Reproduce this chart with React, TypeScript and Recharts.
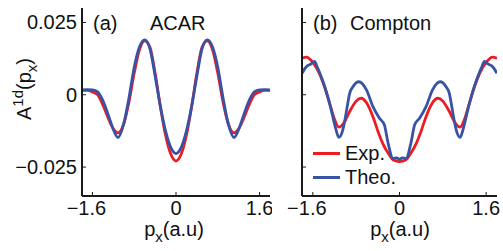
import React from "react";
import { Legend, Line, LineChart, XAxis, YAxis } from "recharts";

// panel (a) ACAR
const acarP = [-1.8, -1.7, -1.6, -1.5, -1.4, -1.3, -1.2, -1.11, -1.0, -0.9, -0.8, -0.7, -0.6, -0.5, -0.4, -0.3, -0.2, -0.1, 0, 0.1, 0.2, 0.3, 0.4, 0.5, 0.6, 0.7, 0.8, 0.9, 1.0, 1.11, 1.2, 1.3, 1.4, 1.5, 1.6, 1.7, 1.8];
const acarExp = [0.0015, 0.0015, 0.001, 0.0, -0.0035, -0.008, -0.0118, -0.0132, -0.01, -0.0025, 0.0075, 0.0155, 0.0186, 0.0165, 0.0075, -0.004, -0.014, -0.0205, -0.0229, -0.0205, -0.014, -0.004, 0.0075, 0.0165, 0.0186, 0.0155, 0.0075, -0.0025, -0.01, -0.0132, -0.0118, -0.008, -0.0035, 0.0, 0.001, 0.0015, 0.0015];
const acarTheo = [0.0017, 0.0018, 0.0017, 0.001, -0.002, -0.0068, -0.012, -0.0148, -0.01, -0.001, 0.0095, 0.0165, 0.019, 0.016, 0.0065, -0.004, -0.0125, -0.0182, -0.0203, -0.0182, -0.0125, -0.004, 0.0065, 0.016, 0.019, 0.0165, 0.0095, -0.001, -0.01, -0.0148, -0.012, -0.0068, -0.002, 0.001, 0.0017, 0.0018, 0.0017];

// panel (b) Compton
const comptonExpP = [-1.8, -1.72, -1.6, -1.48, -1.38, -1.29, -1.2, -1.12, -1.02, -0.92, -0.8, -0.71, -0.6, -0.49, -0.4, -0.31, -0.2, -0.12, 0, 0.12, 0.2, 0.31, 0.4, 0.49, 0.6, 0.71, 0.8, 0.92, 1.02, 1.12, 1.2, 1.29, 1.38, 1.48, 1.6, 1.72, 1.8];
const comptonExp = [0.0126, 0.013, 0.0112, 0.0074, 0.0025, -0.0029, -0.0085, -0.0112, -0.0095, -0.0058, -0.0022, -0.0012, -0.003, -0.0076, -0.0125, -0.0168, -0.0205, -0.0225, -0.0231, -0.0225, -0.0205, -0.0168, -0.0125, -0.0076, -0.003, -0.0012, -0.0022, -0.0058, -0.0095, -0.0112, -0.0085, -0.0029, 0.0025, 0.0074, 0.0112, 0.013, 0.0126];
const comptonTheoP = [-1.8, -1.72, -1.63, -1.57, -1.51, -1.45, -1.38, -1.26, -1.18, -1.12, -1.06, -1.02, -0.96, -0.92, -0.86, -0.75, -0.61, -0.49, -0.37, -0.28, -0.21, -0.12, -0.05, 0, 0.05, 0.12, 0.21, 0.28, 0.37, 0.49, 0.61, 0.75, 0.86, 0.92, 0.96, 1.02, 1.06, 1.12, 1.18, 1.26, 1.38, 1.45, 1.51, 1.57, 1.63, 1.72, 1.8];
const comptonTheo = [0.0074, 0.0097, 0.0107, 0.0115, 0.0092, 0.0065, 0.0028, -0.0053, -0.0115, -0.0147, -0.013, -0.0099, -0.0035, 0.0005, 0.0028, 0.0045, 0.0017, -0.0041, -0.0081, -0.0104, -0.0168, -0.022, -0.0218, -0.0223, -0.0218, -0.022, -0.0168, -0.0104, -0.0081, -0.0041, 0.0017, 0.0045, 0.0028, 0.0005, -0.0035, -0.0099, -0.013, -0.0147, -0.0115, -0.0053, 0.0028, 0.0065, 0.0092, 0.0115, 0.0107, 0.0097, 0.0074];

const xTicks = [-1.6, 0, 1.6];
const yTicks = [-0.025, 0, 0.025];
const xDomain = [-1.8, 1.8];
const yDomain = [-0.035, 0.03];

const RED = "#ed1c24";
const BLUE = "#3953a4";
const FRAME = "#1a1a1a";
const FONT = '"Liberation Sans", Arial, Helvetica, sans-serif';

const rows = (xs: number[], ys: number[]) => xs.map((p, i) => ({ p, v: ys[i] }));
const fmt = (v: number) => (v < 0 ? "\u2212" + Math.abs(v) : String(v));

function BottomTick(props: any) {
  const { x, y, payload } = props;
  const v = payload.value;
  return (
    <g>
      <line x1={x} y1={y} x2={x} y2={y - 4} stroke={FRAME} strokeWidth={1} />
      <text x={x + (v < 0 ? -6 : 0)} y={y + 19} textAnchor="middle" fontSize={20} fontFamily={FONT} fill="#111">
        {fmt(v)}
      </text>
    </g>
  );
}

function TopTick(props: any) {
  const { x, y } = props;
  return <line x1={x} y1={y} x2={x} y2={y + 4} stroke={FRAME} strokeWidth={1} />;
}

function LeftTick(props: any) {
  const { x, y, payload, showLabel } = props;
  return (
    <g>
      <line x1={x} y1={y} x2={x + 4} y2={y} stroke={FRAME} strokeWidth={1} />
      {showLabel && (
        <text x={x - 5} y={y + 7} textAnchor="end" fontSize={20} fontFamily={FONT} fill="#111">
          {fmt(payload.value)}
        </text>
      )}
    </g>
  );
}

function RightTick(props: any) {
  const { x, y } = props;
  return <line x1={x} y1={y} x2={x - 4} y2={y} stroke={FRAME} strokeWidth={1} />;
}

function XLabel({ cx }: { cx: number }) {
  return (
    <text x={cx} y={236} textAnchor="middle" fontSize={20} fontFamily={FONT} fill="#111">
      <tspan>p</tspan>
      <tspan dy={6} fontSize={15}>x</tspan>
      <tspan dy={-6}>(a.u)</tspan>
    </text>
  );
}

function LegendBox(props: any) {
  const items = props.payload || [];
  return (
    <div style={{ fontFamily: FONT, fontSize: 20, color: "#111", lineHeight: "24px" }}>
      {items.map((it: any) => (
        <div key={it.value} style={{ display: "flex", alignItems: "center", height: 24 }}>
          <span style={{ display: "inline-block", width: 27, height: 3, background: it.color, marginRight: 5 }} />
          <span>{it.value}</span>
        </div>
      ))}
    </div>
  );
}

function axes(leftLabels: boolean) {
  const line = { stroke: FRAME, strokeWidth: 2 };
  return [
    <XAxis key="xb" xAxisId="b" dataKey="p" type="number" domain={xDomain} ticks={xTicks} interval={0} allowDataOverflow height={55} axisLine={line} tickLine={false} tickSize={0} tickMargin={0} tick={(p: any) => <BottomTick {...p} />} />,
    <XAxis key="xt" xAxisId="t" orientation="top" dataKey="p" type="number" domain={xDomain} ticks={xTicks} interval={0} allowDataOverflow height={0} axisLine={line} tickLine={false} tickSize={0} tickMargin={0} tick={(p: any) => <TopTick {...p} />} />,
    <YAxis key="yl" yAxisId="l" type="number" domain={yDomain} ticks={yTicks} interval={0} allowDataOverflow width={leftLabels ? 82 : 30} axisLine={line} tickLine={false} tickSize={0} tickMargin={0} tick={(p: any) => <LeftTick {...p} showLabel={leftLabels} />} />,
    <YAxis key="yr" yAxisId="r" orientation="right" type="number" domain={yDomain} ticks={yTicks} interval={0} allowDataOverflow width={0} axisLine={line} tickLine={false} tickSize={0} tickMargin={0} tick={(p: any) => <RightTick {...p} />} />,
  ];
}

export default function App() {
  return (
    <div style={{ position: "absolute", left: 0, top: 0, width: 503, height: 251, background: "#fff" }}>
      <div style={{ position: "absolute", left: 0, top: 0 }}>
        <LineChart width={272} height={251} margin={{ top: 8, right: 2, bottom: 0, left: 0 }}>
          {axes(true)}
          <Line xAxisId="b" yAxisId="l" data={rows(acarP, acarExp)} dataKey="v" name="Exp." type="monotone" stroke={RED} strokeWidth={2.8} dot={false} isAnimationActive={false} />
          <Line xAxisId="b" yAxisId="l" data={rows(acarP, acarTheo)} dataKey="v" name="Theo." type="monotone" stroke={BLUE} strokeWidth={2.8} dot={false} isAnimationActive={false} />
          <text x={93} y={30} fontSize={20} fontFamily={FONT} fill="#111">(a)</text>
          <text x={150} y={30} fontSize={20} fontFamily={FONT} fill="#111">ACAR</text>
          <text transform="rotate(-90 31 89)" x={31} y={89} textAnchor="middle" fontSize={20} fontFamily={FONT} fill="#111">
            <tspan>A</tspan>
            <tspan dy={-8} fontSize={15}>1d</tspan>
            <tspan dy={8}>(p</tspan>
            <tspan dy={6} fontSize={15}>x</tspan>
            <tspan dy={-6}>)</tspan>
          </text>
          <XLabel cx={174} />
        </LineChart>
      </div>
      <div style={{ position: "absolute", left: 272, top: 0 }}>
        <LineChart width={231} height={251} margin={{ top: 8, right: 6, bottom: 0, left: 0 }}>
          {axes(false)}
          <Line xAxisId="b" yAxisId="l" data={rows(comptonExpP, comptonExp)} dataKey="v" name="Exp." type="monotone" stroke={RED} strokeWidth={2.8} dot={false} isAnimationActive={false} />
          <Line xAxisId="b" yAxisId="l" data={rows(comptonTheoP, comptonTheo)} dataKey="v" name="Theo." type="monotone" stroke={BLUE} strokeWidth={2.8} dot={false} isAnimationActive={false} />
          <Legend layout="vertical" align="center" verticalAlign="middle" content={(p: any) => <LegendBox {...p} />} wrapperStyle={{ position: "absolute", left: 41, top: 141, width: "auto", height: "auto" }} />
          <text x={41} y={30} fontSize={20} fontFamily={FONT} fill="#111">(b)</text>
          <text x={78} y={30} fontSize={20} fontFamily={FONT} fill="#111">Compton</text>
          <XLabel cx={128} />
        </LineChart>
      </div>
    </div>
  );
}
